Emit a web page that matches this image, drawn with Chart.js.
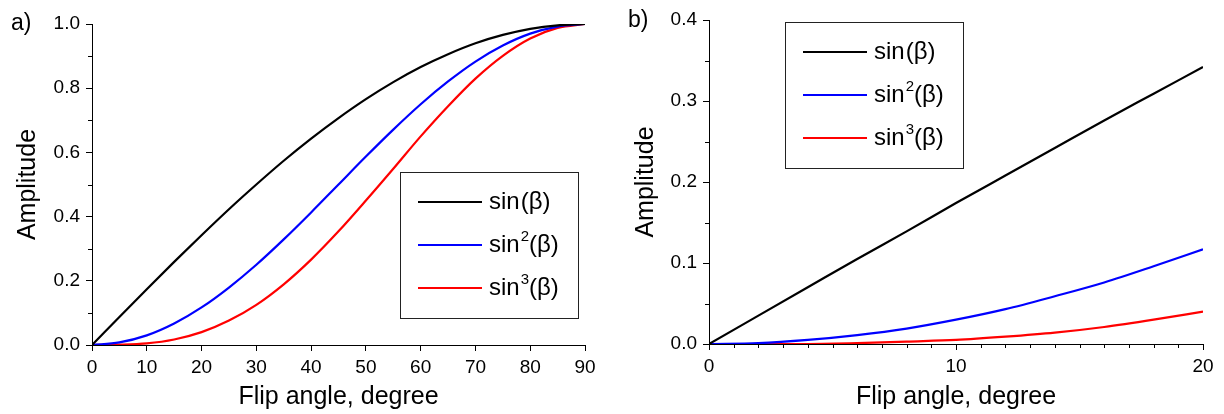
<!DOCTYPE html>
<html>
<head>
<meta charset="utf-8">
<script src="https://cdn.jsdelivr.net/npm/chart.js@4.4.0/dist/chart.umd.min.js"></script>
<style>
    html, body { margin: 0; padding: 0; background: #fff; }
    #wrap { position: relative; width: 1224px; height: 414px; }
    canvas { position: absolute; top: 0; }
</style>
</head>
<body>
<div id="wrap">
    <canvas id="chart-a" width="612" height="414" style="left:0"></canvas>
    <canvas id="chart-b" width="612" height="414" style="left:612px"></canvas>
</div>
<script>
// panel a: 0..90 degree, read every 5 degree
const anglesA = [0, 5, 10, 15, 20, 25, 30, 35, 40, 45, 50, 55, 60, 65, 70, 75, 80, 85, 90];
const sin1A = [0, 0.087, 0.174, 0.259, 0.342, 0.423, 0.500, 0.574, 0.643, 0.707, 0.766, 0.819, 0.866, 0.906, 0.940, 0.966, 0.985, 0.996, 1.0];
const sin2A = [0, 0.008, 0.030, 0.067, 0.117, 0.179, 0.250, 0.329, 0.413, 0.500, 0.587, 0.671, 0.750, 0.821, 0.883, 0.933, 0.970, 0.992, 1.0];
const sin3A = [0, 0.001, 0.005, 0.017, 0.040, 0.076, 0.125, 0.189, 0.266, 0.354, 0.450, 0.549, 0.650, 0.744, 0.830, 0.901, 0.955, 0.988, 1.0];

// panel b: zoom on 0..20 degree
const anglesB = [0, 2, 4, 6, 8, 10, 12, 14, 16, 18, 20];
const sin1B = [0, 0.035, 0.070, 0.105, 0.139, 0.174, 0.208, 0.242, 0.276, 0.309, 0.342];
const sin2B = [0, 0.001, 0.005, 0.011, 0.019, 0.030, 0.043, 0.059, 0.076, 0.096, 0.117];
const sin3B = [0, 0.000, 0.000, 0.001, 0.003, 0.005, 0.009, 0.014, 0.021, 0.030, 0.040];

const seriesLabels = ['sin(β)', 'sin²(β)', 'sin³(β)'];
// legend text split as [base, superscript, rest]
const legendParts = [['sin', '', '(β)'], ['sin', '2', '(β)'], ['sin', '3', '(β)']];
const seriesColors = ['#000000', '#0000ff', '#ff0000'];

const minorYA = [0.1, 0.3, 0.5, 0.7, 0.9];
const minorYB = [0.05, 0.15, 0.25, 0.35];
const minorXB = [1, 2, 3, 4, 5, 6, 7, 8, 9, 11, 12, 13, 14, 15, 16, 17, 18, 19];

const FONT = '"Liberation Sans", Arial, sans-serif';

const toPoints = (xs, ys) => xs.map((x, i) => ({ x: x, y: ys[i] }));

const panelDecor = {
    id: 'panelDecor',
    afterDraw(chart, args, opts) {
        const ctx = chart.ctx;
        const xs = chart.scales.x;
        const ys = chart.scales.y;
        ctx.save();

        // minor ticks
        ctx.strokeStyle = '#000';
        ctx.lineWidth = 1;
        ctx.beginPath();
        (opts.yMinor || []).forEach(v => {
            const py = Math.round(ys.getPixelForValue(v)) + 0.5;
            ctx.moveTo(xs.left - 4, py);
            ctx.lineTo(xs.left, py);
        });
        (opts.xMinor || []).forEach(v => {
            const px = Math.round(xs.getPixelForValue(v)) + 0.5;
            ctx.moveTo(px, ys.bottom);
            ctx.lineTo(px, ys.bottom + 4);
        });
        ctx.stroke();

        // panel letter
        ctx.fillStyle = '#000';
        ctx.textBaseline = 'middle';
        ctx.textAlign = 'left';
        ctx.font = '23px ' + FONT;
        ctx.fillText(opts.letter, opts.letterX, opts.letterY);

        // legend box
        const b = opts.box;
        ctx.strokeStyle = '#222';
        ctx.lineWidth = 1;
        ctx.strokeRect(b.x + 0.5, b.y + 0.5, b.w, b.h);

        chart.data.datasets.forEach((ds, i) => {
            const ry = b.y + 30 + i * 43;
            ctx.strokeStyle = ds.borderColor;
            ctx.lineWidth = 2;
            ctx.beginPath();
            ctx.moveTo(b.x + 18, ry);
            ctx.lineTo(b.x + 82, ry);
            ctx.stroke();

            const parts = legendParts[i];
            let tx = b.x + 89;
            ctx.font = '24px ' + FONT;
            ctx.fillText(parts[0], tx, ry);
            tx += ctx.measureText(parts[0]).width + 1;
            if (parts[1]) {
                ctx.font = '15px ' + FONT;
                ctx.fillText(parts[1], tx, ry - 8);
                tx += ctx.measureText(parts[1]).width;
                ctx.font = '24px ' + FONT;
            }
            ctx.fillText(parts[2], tx, ry);
        });
        ctx.restore();
    }
};

function makeChart(canvasId, xs, s1, s2, s3, cfg) {
    const canvas = document.querySelector(`#${canvasId}`);
    const data = [s1, s2, s3];
    return new Chart(canvas, {
        type: 'line',
        data: {
            datasets: data.map((vals, i) => ({
                label: seriesLabels[i],
                data: toPoints(xs, vals),
                borderColor: seriesColors[i],
                borderWidth: 2.2,
                pointRadius: 0,
                cubicInterpolationMode: 'monotone',
                fill: false
            }))
        },
        options: {
            responsive: false,
            animation: false,
            layout: { padding: cfg.padding },
            scales: {
                x: {
                    type: 'linear',
                    min: cfg.xMin,
                    max: cfg.xMax,
                    afterFit: scale => { scale.height = cfg.xHeight; },
                    border: { display: true, color: '#000', width: 1 },
                    grid: { drawOnChartArea: false, drawTicks: true, tickLength: 6, tickColor: '#000' },
                    ticks: {
                        stepSize: 10,
                        maxRotation: 0,
                        padding: 5,
                        color: '#000',
                        font: { family: FONT, size: 19 }
                    },
                    title: {
                        display: true,
                        text: 'Flip angle, degree',
                        color: '#000',
                        font: { family: FONT, size: 25, lineHeight: 1.2 },
                        padding: { top: 0, bottom: 2 }
                    }
                },
                y: {
                    type: 'linear',
                    min: 0,
                    max: cfg.yMax,
                    afterFit: scale => { scale.width = cfg.yWidth; },
                    border: { display: true, color: '#000', width: 1 },
                    grid: { drawOnChartArea: false, drawTicks: true, tickLength: 6, tickColor: '#000' },
                    ticks: {
                        stepSize: cfg.yStep,
                        padding: 6,
                        color: '#000',
                        font: { family: FONT, size: 19 },
                        callback: value => value.toFixed(1)
                    },
                    title: {
                        display: true,
                        text: 'Amplitude',
                        color: '#000',
                        font: { family: FONT, size: 25, lineHeight: 1.2 },
                        padding: { top: cfg.yTitlePad, bottom: 0 }
                    }
                }
            },
            plugins: {
                legend: { display: false },
                tooltip: { enabled: false },
                panelDecor: cfg.decor
            }
        },
        plugins: [panelDecor]
    });
}

makeChart('chart-a', anglesA, sin1A, sin2A, sin3A, {
    padding: { left: 0, right: 27, top: 24, bottom: 0 },
    xMin: 0, xMax: 90, xHeight: 69,
    yMax: 1.0, yStep: 0.2, yWidth: 92, yTitlePad: 13,
    decor: {
        yMinor: minorYA,
        xMinor: [],
        letter: 'a)', letterX: 11, letterY: 24,
        box: { x: 400, y: 172, w: 178, h: 146 }
    }
});

makeChart('chart-b', anglesB, sin1B, sin2B, sin3B, {
    padding: { left: 0, right: 21, top: 20, bottom: 0 },
    xMin: 0, xMax: 20, xHeight: 70,
    yMax: 0.4, yStep: 0.1, yWidth: 97, yTitlePad: 19,
    decor: {
        yMinor: minorYB,
        xMinor: minorXB,
        letter: 'b)', letterX: 16, letterY: 21,
        box: { x: 173, y: 22, w: 178, h: 146 }
    }
});
</script>
</body>
</html>
